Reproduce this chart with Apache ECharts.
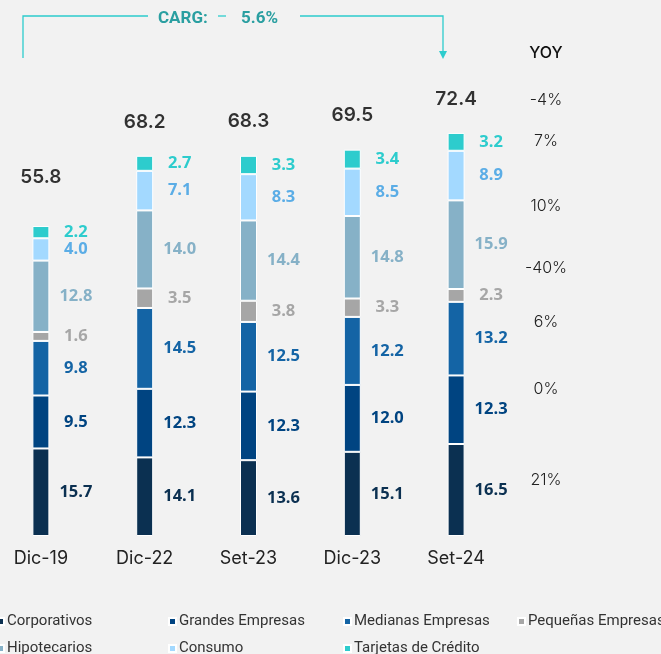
<!DOCTYPE html>
<html>
<head>
<meta charset="utf-8">
<script src="https://cdn.jsdelivr.net/npm/echarts@6/dist/echarts.min.js"></script>
<style>
  html, body { margin: 0; padding: 0; background: #f2f2f2; }
  #chart { width: 661px; height: 654px; }
</style>
</head>
<body>
<div id="chart"></div>
<script>
// periods on the x axis
const categories = ['Dic-19', 'Dic-22', 'Set-23', 'Dic-23', 'Set-24'];

// stacked segments, bottom to top
const corporativos = [15.7, 14.1, 13.6, 15.1, 16.5];
const grandesEmpresas = [9.5, 12.3, 12.3, 12.0, 12.3];
const medianasEmpresas = [9.8, 14.5, 12.5, 12.2, 13.2];
const pequenasEmpresas = [1.6, 3.5, 3.8, 3.3, 2.3];
const hipotecarios = [12.8, 14.0, 14.4, 14.8, 15.9];
const consumo = [4.0, 7.1, 8.3, 8.5, 8.9];
const tarjetas = [2.2, 2.7, 3.3, 3.4, 3.2];

// totals printed above the bars
const totals = [55.8, 68.2, 68.3, 69.5, 72.4];

// YOY column on the right
const yoyLabels = ['-4%', '7%', '10%', '-40%', '6%', '0%', '21%'];
const cargLabel = '5.6%';

const seriesDefs = [
  { name: 'Corporativos', data: corporativos, color: '#0b3051', label: '#0b3051' },
  { name: 'Grandes Empresas', data: grandesEmpresas, color: '#004481', label: '#004481' },
  { name: 'Medianas Empresas', data: medianasEmpresas, color: '#1464a5', label: '#1464a5' },
  { name: 'Pequeñas Empresas', data: pequenasEmpresas, color: '#a6a6a6', label: '#a6a6a6' },
  { name: 'Hipotecarios', data: hipotecarios, color: '#86b1c7', label: '#86b1c7' },
  { name: 'Consumo', data: consumo, color: '#a3d9ff', label: '#5bade6' },
  { name: 'Tarjetas de Crédito', data: tarjetas, color: '#2dcccd', label: '#2dcccd' }
];

const chart = echarts.init(document.getElementById('chart'));

const barSeries = seriesDefs.map(s => ({
  name: s.name,
  type: 'bar',
  stack: 'total',
  barWidth: 17,
  data: s.data,
  itemStyle: { color: s.color, borderColor: '#ffffff', borderWidth: 1 },
  label: {
    show: true,
    position: 'inside',
    offset: [35, 0],
    color: s.label,
    fontFamily: 'Open Sans',
    fontWeight: 'bold',
    fontSize: 16.5,
    formatter: p => p.value.toFixed(1)
  },
  emphasis: { disabled: true }
}));

const totalSeries = {
  name: 'Total',
  type: 'scatter',
  symbolSize: 0,
  data: totals.map((v, i) => ({
    value: v,
    label: { distance: i === 0 ? 38 : 24 }
  })),
  label: {
    show: true,
    position: 'top',
    color: '#000',
    fontFamily: 'Inter',
    fontWeight: 600,
    fontSize: 19,
    formatter: p => p.value.toFixed(1)
  },
  silent: true
};

// legend laid out as a 4-column table
const legendCols = [-4, 168, 343, 517];
const legendRows = [614, 641];
const legends = seriesDefs.map((s, i) => ({
  data: [s.name],
  left: legendCols[i % 4],
  top: legendRows[Math.floor(i / 4)],
  padding: 0,
  icon: 'rect',
  itemWidth: 7,
  itemHeight: 7,
  itemGap: 4,
  selectedMode: false,
  textStyle: { fontFamily: 'Roboto', fontSize: 15, color: '#333', padding: [0, 0, 0, -2] }
}));

// YOY text column
const yoyY = [100, 141, 206, 268, 322, 389, 480];
const yoyGraphics = yoyLabels.map((t, i) => ({
  type: 'text',
  x: 546,
  y: yoyY[i],
  style: {
    text: t, fill: '#222', font: '300 16px Inter',
    textAlign: 'center', textVerticalAlign: 'middle'
  }
}));

const teal = '#2dcccd';
const cargGraphics = [
  { type: 'polyline', shape: { points: [[23, 58], [23, 16], [148, 16]] }, style: { stroke: teal, lineWidth: 1.3, fill: null } },
  { type: 'line', shape: { x1: 218, y1: 16, x2: 226, y2: 16 }, style: { stroke: teal, lineWidth: 1.3 } },
  { type: 'polyline', shape: { points: [[300, 16], [443, 16], [443, 51]] }, style: { stroke: teal, lineWidth: 1.3, fill: null } },
  { type: 'polygon', shape: { points: [[439, 51], [447, 51], [443, 59]] }, style: { fill: teal } },
  {
    type: 'text', x: 158, y: 19,
    style: { text: 'CARG:', fill: '#2a9fa1', font: 'bold 17px Roboto', textVerticalAlign: 'middle' }
  },
  {
    type: 'text', x: 241, y: 19,
    style: { text: cargLabel, fill: '#2a9fa1', font: 'bold 17px Roboto', textVerticalAlign: 'middle' }
  },
  {
    type: 'text', x: 546, y: 53,
    style: { text: 'YOY', fill: '#111', font: '500 16px Inter', textAlign: 'center', textVerticalAlign: 'middle' }
  }
];

const option = {
  backgroundColor: '#f2f2f2',
  animation: false,
  grid: { left: -11, top: 90, width: 519, height: 446, outerBoundsMode: 'none', containLabel: false },
  xAxis: {
    type: 'category',
    data: categories,
    axisLine: { show: false },
    axisTick: { show: false },
    axisLabel: { color: '#222', fontFamily: 'Inter', fontSize: 18, margin: 14 }
  },
  yAxis: {
    type: 'value',
    min: 0,
    max: 80,
    show: false
  },
  legend: legends,
  series: barSeries.concat([totalSeries]),
  graphic: cargGraphics.concat(yoyGraphics)
};

chart.setOption(option);
</script>
</body>
</html>
